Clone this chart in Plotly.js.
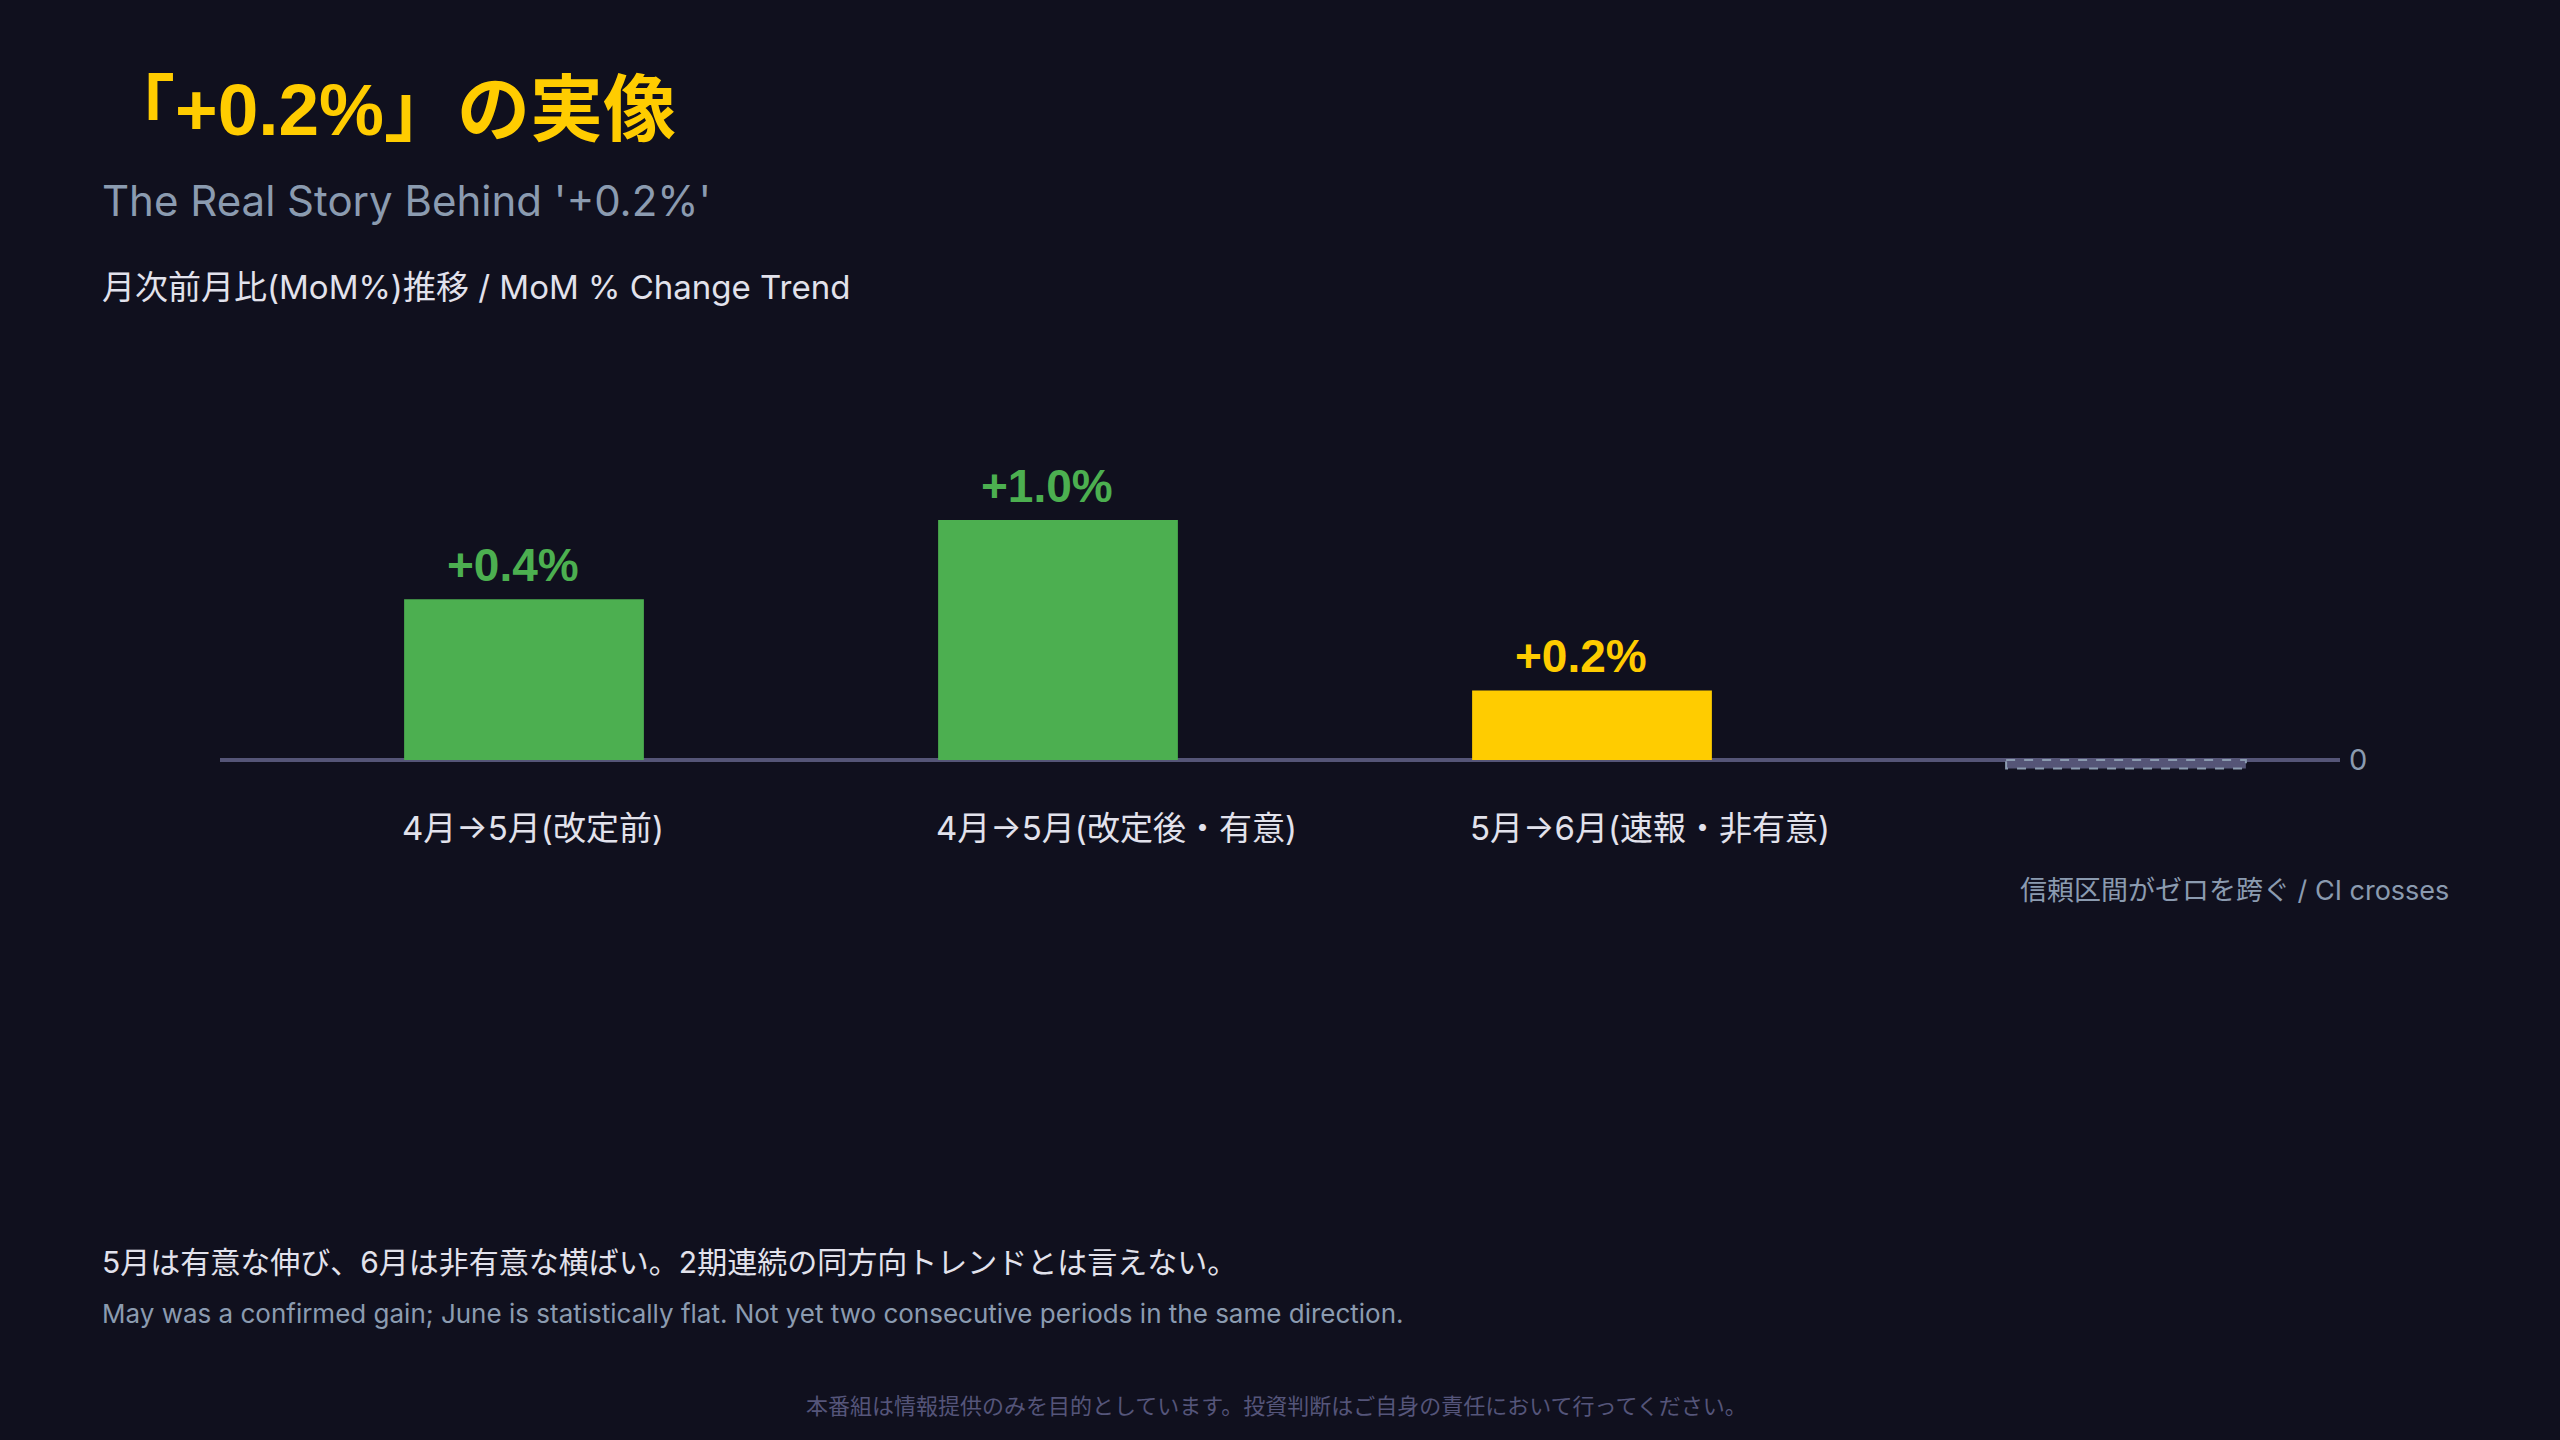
<!DOCTYPE html>
<html>
<head>
<meta charset="utf-8">
<script src="https://cdn.plot.ly/plotly-3.0.1.min.js"></script>
<style>
  html, body { margin: 0; padding: 0; background: #10101e; }
  #chart { width: 2560px; height: 1440px; }
</style>
</head>
<body>
<div id="chart"></div>
<script>
// ---- data ----
const categories = ['4月→5月(改定前)', '4月→5月(改定後・有意)', '5月→6月(速報・非有意)', '6月→7月'];
const categoryLabels = ['4月→5月(改定前)', '4月→5月(改定後・有意)', '5月→6月(速報・非有意)', ''];
// bar values as drawn in the picture (relative heights)
const barValues = [0.67, 1.0, 0.29, -0.035];
const valueLabels = ['+0.4%', '+1.0%', '+0.2%', ''];
const barColors = ['#4caf50', '#4caf50', '#ffcc00', '#555577'];
const labelColors = ['#4caf50', '#4caf50', '#ffcc00', '#8b9bb0'];
const dashedIndex = 3;
const ciNote = '信頼区間がゼロを跨ぐ / CI crosses';

const titleText = '「+0.2%」の実像';
const subtitleText = "The Real Story Behind '+0.2%'";
const headingText = '月次前月比(MoM%)推移 / MoM % Change Trend';
const summaryJa = '5月は有意な伸び、6月は非有意な横ばい。2期連続の同方向トレンドとは言えない。';
const summaryEn = 'May was a confirmed gain; June is statistically flat. Not yet two consecutive periods in the same direction.';
const disclaimer = '本番組は情報提供のみを目的としています。投資判断はご自身の責任において行ってください。';

// ---- layout helpers ----
const W = 2560, H = 1440;
const M = { l: 220, r: 220, t: 400, b: 584 };
const plotW = W - M.l - M.r, plotH = H - M.t - M.b;
const px = x => (x - M.l) / plotW;
const py = y => (H - M.b - y) / plotH;
const barWidth = 0.449;

const FONT = "Inter, 'Noto Sans CJK JP', sans-serif";
const BOLDFONT = "'Liberation Sans', 'Noto Sans CJK JP', sans-serif";
const BG = '#10101e';
const GRAY = '#8b9bb0';
const LIGHT = '#e2e2ec';

const annotations = [];
function txt(text, x, y, size, color, opts, family) {
  annotations.push(Object.assign({
    text: text, xref: 'paper', yref: 'paper', x: px(x), y: py(y),
    xanchor: 'left', yanchor: 'middle', showarrow: false,
    font: { family: family || FONT, size: size, color: color }
  }, opts || {}));
}

txt('<b>' + titleText + '</b>', 100, 110, 73, '#ffcc00', null, BOLDFONT);
txt(subtitleText, 100, 200, 42, GRAY);
txt(headingText, 100, 287, 33, LIGHT);
txt(summaryJa, 100, 1262, 30, LIGHT);
txt(summaryEn, 100, 1313, 26, GRAY);
txt(disclaimer, 1276, 1406, 22, '#55557a', { xanchor: 'center' });

// value labels above bars and category labels below
categories.forEach((c, i) => {
  if (valueLabels[i]) {
    annotations.push({
      text: '<b>' + valueLabels[i] + '</b>', xref: 'x', yref: 'y', x: i, y: barValues[i],
      xanchor: 'center', yanchor: 'bottom', yshift: 6, xshift: -11, showarrow: false,
      font: { family: BOLDFONT, size: 46, color: labelColors[i] }
    });
  }
  if (categoryLabels[i]) {
    annotations.push({
      text: categoryLabels[i], xref: 'x', yref: 'paper', x: i - barWidth / 2, y: py(828),
      xanchor: 'left', yanchor: 'middle', xshift: -4, showarrow: false,
      font: { family: FONT, size: 33, color: LIGHT }
    });
  }
});
// CI note under the last bar
annotations.push({
  text: ciNote, xref: 'x', yref: 'paper', x: dashedIndex - barWidth / 2, y: py(890),
  xanchor: 'left', yanchor: 'middle', xshift: 12, showarrow: false,
  font: { family: FONT, size: 27, color: GRAY }
});

const shapes = [{
  type: 'rect', xref: 'x', yref: 'y',
  x0: dashedIndex - barWidth / 2, x1: dashedIndex + barWidth / 2,
  y0: 0, y1: barValues[dashedIndex],
  line: { color: GRAY, width: 2, dash: 'dash' },
  fillcolor: 'rgba(0,0,0,0)', layer: 'above'
}];

const trace = {
  type: 'bar',
  x: [0, 1, 2, 3],
  y: barValues,
  width: barWidth,
  marker: { color: barColors, line: { width: 0 } },
  hoverinfo: 'skip'
};

const layout = {
  width: W, height: H,
  margin: M,
  paper_bgcolor: BG, plot_bgcolor: BG,
  showlegend: false,
  xaxis: {
    range: [(M.l - 524) / 534, (W - M.r - 524) / 534],
    showticklabels: false, showgrid: false, zeroline: false, showline: false, ticks: ''
  },
  yaxis: {
    range: [-0.4, 1.5], side: 'right',
    tickvals: [0], ticktext: ['0'], ticks: '', ticklabelstandoff: 8,
    tickfont: { family: FONT, size: 29, color: GRAY },
    showgrid: false, showline: false,
    zeroline: true, zerolinecolor: '#555577', zerolinewidth: 4
  },
  annotations: annotations,
  shapes: shapes
};

Plotly.newPlot('chart', [trace], layout, { displayModeBar: false, staticPlot: true });
</script>
</body>
</html>
